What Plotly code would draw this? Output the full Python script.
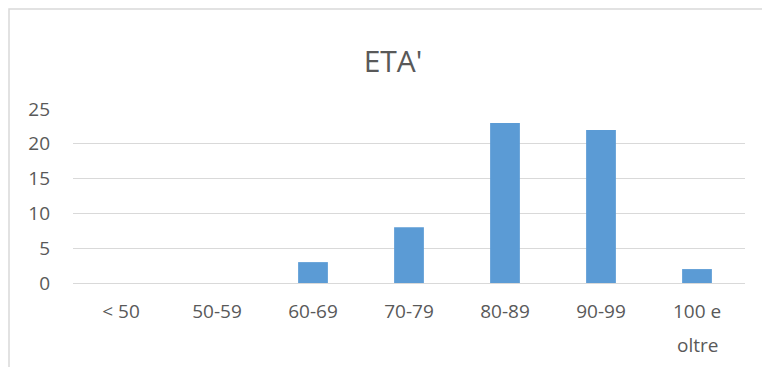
import plotly.graph_objects as go

categories = ["< 50", "50-59", "60-69", "70-79", "80-89", "90-99", "100 e oltre"]
values = [0, 0, 3, 8, 23, 22, 2]
y_ticks = [0, 5, 10, 15, 20, 25]
title_text = "ETA'"

W, H = 762, 367
L, R, T, B = 73, 17, 109, 84
pw, ph = W - L - R, H - T - B

# Excel wraps the last label onto two lines with generous spacing
first_lines = [c if c != "100 e oltre" else "100 e" for c in categories]
wrapped = "100 e oltre"

fig = go.Figure(go.Bar(
    x=categories, y=values,
    marker=dict(color="#5B9BD5", line=dict(width=0)),
    hoverinfo="x+y",
))

fig.update_layout(
    width=W, height=H,
    margin=dict(l=L, r=R, t=T, b=B),
    paper_bgcolor="white", plot_bgcolor="white",
    bargap=0.69,
    showlegend=False,
    title=dict(text=title_text, x=(393 - L) / pw, xref="paper", xanchor="center",
               y=1 - 61 / H, yanchor="middle",
               font=dict(family="Open Sans", size=30, color="#595959")),
    font=dict(family="Open Sans", size=19, color="#595959"),
)
fig.update_xaxes(
    showgrid=False, showline=False, zeroline=False,
    ticks="", ticklabelstandoff=15,
    tickvals=categories, ticktext=first_lines,
    tickfont=dict(family="Open Sans", size=19, color="#595959"),
)
fig.update_yaxes(
    range=[0, 25], tickvals=y_ticks,
    showgrid=True, gridcolor="#d9d9d9", gridwidth=1.3,
    zeroline=True, zerolinecolor="#d9d9d9", zerolinewidth=1.3,
    showline=False, ticks="", ticklabelstandoff=22,
    tickfont=dict(family="Open Sans", size=19, color="#595959"),
)

fig.add_annotation(
    x=wrapped, xref="x", y=-(345 - (T + ph)) / ph, yref="paper",
    text="oltre", showarrow=False, xanchor="center", yanchor="middle",
    font=dict(family="Open Sans", size=19, color="#595959"),
)

# outer chart frame (extends past right and bottom edges, as in reference)
fig.add_shape(
    type="rect", xref="paper", yref="paper",
    x0=(9 - L) / pw, x1=(W + 5 - L) / pw,
    y0=-(H + 5 - (T + ph)) / ph, y1=(T + ph - 9) / ph,
    line=dict(color="#d9d9d9", width=1.5), fillcolor="rgba(0,0,0,0)", layer="below",
)

fig.write_html("out.html")
